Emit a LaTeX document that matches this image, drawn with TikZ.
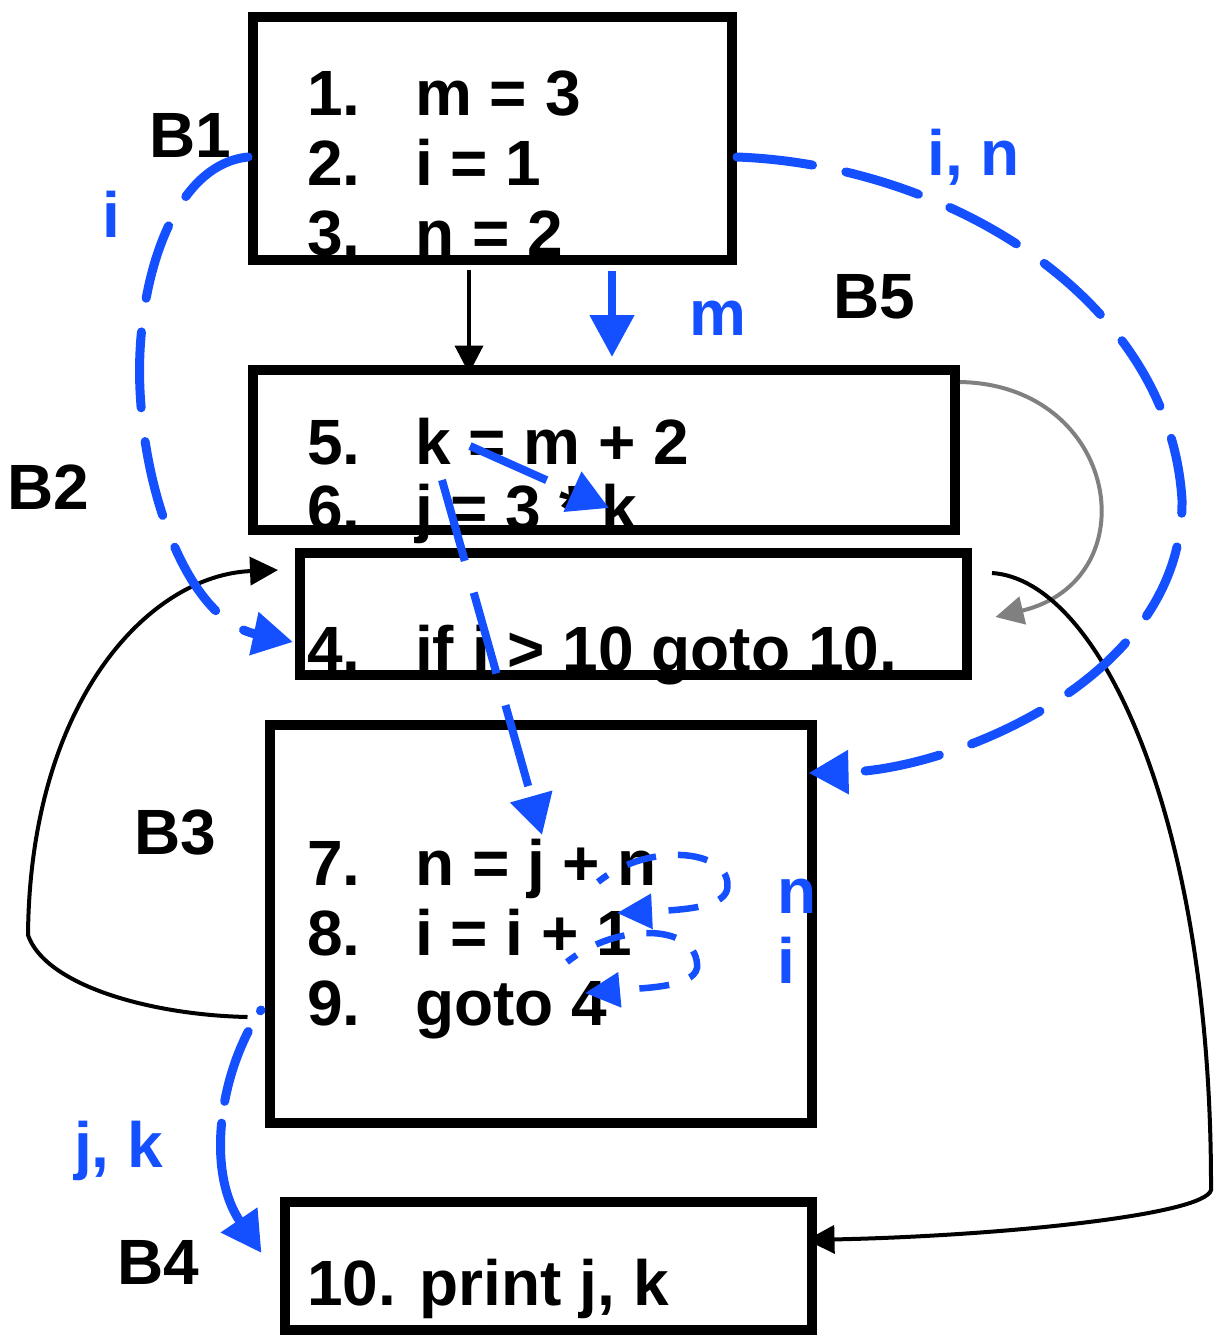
\documentclass[tikz,border=0pt]{standalone}
\usepackage{fontspec}
\setmainfont{Liberation Sans}
\usetikzlibrary{arrows.meta}
\definecolor{flowblue}{RGB}{20,80,255}
\definecolor{flowgray}{RGB}{128,128,128}

\begin{document}
\begin{tikzpicture}[x=1pt,y=-1pt,
  block/.style={draw=black, line width=10pt, rectangle, inner sep=0pt},
  code/.style={anchor=base west, inner sep=0pt, font=\fontsize{64}{70}\selectfont\bfseries},
  bluetext/.style={code, text=flowblue},
  ctrl/.style={draw=black, line width=4pt, -{Triangle[length=28pt,width=28pt]}},
  ctrlgray/.style={draw=flowgray, line width=4pt, -{Triangle[length=28pt,width=28pt]}},
  defuse/.style={draw=flowblue, line width=9pt, line cap=round,
    dash pattern=on 76pt off 34pt, -{Triangle[length=40pt,width=42pt]}},
  defsolid/.style={draw=flowblue, line width=8pt, -{Triangle[length=42pt,width=43pt]}},
  defline/.style={draw=flowblue, line width=8pt,
    dash pattern=on 84pt off 33pt, -{Triangle[length=40pt,width=42pt]}},
  defloop/.style={draw=flowblue, line width=6.5pt,
    dash pattern=on 30pt off 22pt, -{Triangle[length=35pt,width=34pt]}},
]
\useasboundingbox (0,0) rectangle (1213,1336);

% basic blocks
\node[block, minimum width=479pt, minimum height=243pt] (b1) at (492.5,138.5) {};
\node[block, minimum width=702pt, minimum height=160pt] (b5) at (604,450) {};
\node[block, minimum width=667pt, minimum height=122pt] (b2) at (633.5,614) {};
\node[block, minimum width=542pt, minimum height=398pt] (b3) at (541,924) {};
\node[block, minimum width=527pt, minimum height=128pt] (b4) at (548.5,1266) {};

% statements
\node[code] (l1) at (307,115) {\makebox[108pt][l]{1.}m = 3};
\node[code] (l2) at (307,185) {\makebox[108pt][l]{2.}i = 1};
\node[code] (l3) at (307,255) {\makebox[108pt][l]{3.}n = 2};
\node[code] (l5) at (307,464) {\makebox[108pt][l]{5.}k = m + 2};
\node[code] (l6) at (307,530) {\makebox[108pt][l]{6.}j = 3 * k};
\node[code] (l4) at (307,671) {\makebox[108pt][l]{4.}if i > 10 goto 10.};
\node[code] (l7) at (307,885) {\makebox[108pt][l]{7.}n = j + n};
\node[code] (l8) at (307,955) {\makebox[108pt][l]{8.}i = i + 1};
\node[code] (l9) at (307,1025) {\makebox[108pt][l]{9.}goto 4};
\node[code] (l10) at (307,1305) {10. print j, k};

% block names
\node[code] (n1) at (149,157) {B1};
\node[code] (n5) at (833,318) {B5};
\node[code] (n2) at (7,509) {B2};
\node[code] (n3) at (134,854) {B3};
\node[code] (n4) at (117,1284) {B4};

% variable labels
\node[bluetext] (vi) at (102,237) {i};
\node[bluetext] (vin) at (927,175) {i, n};
\node[bluetext] (vm) at (689,335) {m};
\node[bluetext] (vn) at (777,913) {n};
\node[bluetext] (vi2) at (777,983) {i};
\node[bluetext] (vjk) at (74,1167) {j, k};

% control flow
\draw[ctrl] ([xshift=-23.5pt,yshift=-5pt]b1.south) -- ([xshift=-135pt,yshift=-8.5pt]b5.north);
\draw[ctrlgray] ([yshift=68pt]b5.east) .. controls (1120,385) and (1150,580) .. ([xshift=23.5pt,yshift=-3pt]b2.east);
\draw[ctrl] ([xshift=20pt,yshift=41pt]b2.east) .. controls (1100,580) and (1212,820) .. (1211,1190)
  .. controls (1205,1215) and (1000,1236) .. ([xshift=-10.5pt,yshift=26pt]b4.east);
\draw[ctrl] ([xshift=-17.5pt,yshift=-93pt]b3.west) .. controls (150,1015) and (45,985) .. (28,935)
  .. controls (30,700) and (150,575) .. ([xshift=-17pt,yshift=44pt]b2.west);

% definition-use chains
\draw[defsolid] ([xshift=119.5pt,yshift=-6pt]b1.south) -- ([xshift=8pt,yshift=8pt]b5.north);
\draw[defuse] ([yshift=-18.5pt]b1.west) .. controls (170,165) and (135,290) .. (140,390)
  .. controls (145,500) and (190,620) .. ([xshift=-2pt,yshift=-28pt]b2.west);
\draw[defuse] ([yshift=-18.5pt]b1.east) .. controls (950,165) and (1170,300) .. (1182,500)
  .. controls (1184,680) and (950,770) .. ([xshift=-8.5pt,yshift=151pt]b3.east);
\draw[defuse, dash pattern=on 1pt off 24pt on 74pt off 22pt on 300pt off 1pt]
  ([xshift=-4pt,yshift=-86pt]b3.west) .. controls (220,1070) and (205,1170) .. ([xshift=-18.5pt,yshift=13pt]b4.west);
\draw[defline] ([xshift=163pt,yshift=18pt]l5.base west) -- ([xshift=302pt,yshift=22pt]l6.base west);
\draw[defline] ([xshift=135pt,yshift=50pt]l6.base west) -- ([xshift=235pt,yshift=50pt]l7.base west);
\draw[defloop, dash phase=18pt] ([xshift=291pt,yshift=3pt]l7.base west) .. controls (650,840) and (735,850) .. (727,890)
  .. controls (722,908) and (680,910) .. ([xshift=310pt,yshift=42pt]l8.base west);
\draw[defloop, dash phase=18pt] ([xshift=260pt,yshift=-7pt]l8.base west) .. controls (620,920) and (700,925) .. (697,968)
  .. controls (693,988) and (640,988) .. ([xshift=278pt,yshift=32pt]l9.base west);
\end{tikzpicture}
\end{document}
